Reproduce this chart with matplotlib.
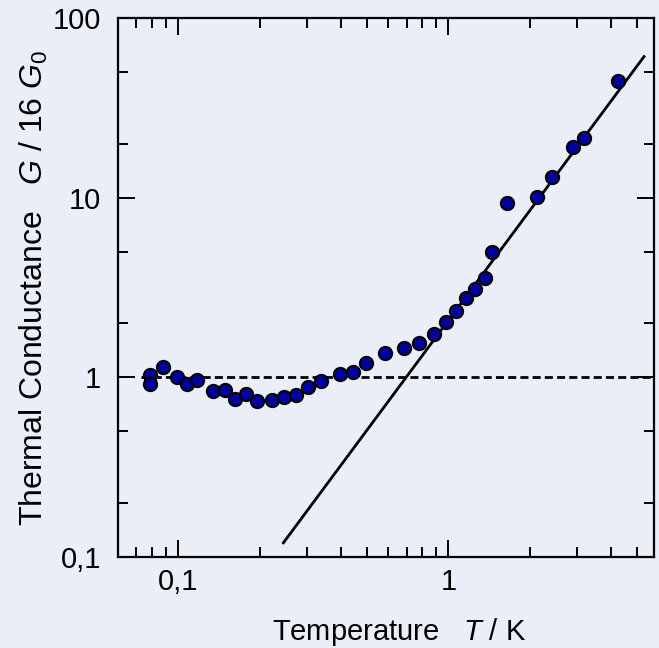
import matplotlib
matplotlib.use("Agg")
import matplotlib.pyplot as plt
from matplotlib.ticker import LogLocator, NullFormatter

plt.rcParams['font.family'] = ['Liberation Sans', 'DejaVu Sans']
plt.rcParams['mathtext.fontset'] = 'custom'
plt.rcParams['mathtext.rm'] = 'Liberation Sans'
plt.rcParams['mathtext.it'] = 'Liberation Sans:italic'

# measured thermal conductance (T in K, G in units of 16 G0)
temp = [0.0785, 0.0785, 0.088, 0.0986, 0.1074, 0.1176, 0.1341, 0.1486, 0.1626,
        0.1777, 0.1951, 0.2218, 0.2463, 0.2722, 0.3009, 0.3363, 0.3972, 0.4436,
        0.4944, 0.5843, 0.6854, 0.779, 0.8852, 0.9806, 1.065, 1.161, 1.259,
        1.370, 1.448, 1.654, 2.126, 2.415, 2.888, 3.181, 4.241]
cond = [1.026, 0.923, 1.141, 1.009, 0.923, 0.962, 0.839, 0.847, 0.761,
        0.804, 0.735, 0.748, 0.781, 0.794, 0.889, 0.960, 1.045, 1.066,
        1.196, 1.372, 1.456, 1.546, 1.742, 2.031, 2.339, 2.770, 3.088,
        3.555, 4.974, 9.297, 10.08, 13.02, 19.22, 21.38, 44.55]

# T^2 guide line and the quantum limit G = 16 G0
line_T = [0.245, 5.3]
line_G = [0.12, 61.0]
limit_T = [0.0725, 5.8]
limit_G = [1.0, 1.0]

bg = '#e9eef7'
fig = plt.figure(figsize=(6.59, 6.48), dpi=100, facecolor=bg)
ax = fig.add_axes([0.179, 0.1404, 0.8134, 0.8318], facecolor=bg)

ax.plot(limit_T, limit_G, color='black', lw=2.0, ls=(0, (2.9, 1.5)))
ax.plot(line_T, line_G, color='black', lw=2.0)
ax.plot(temp, cond, 'o', ms=9.5, mfc='#00009c', mec='black', mew=1.5)

ax.set_xscale('log')
ax.set_yscale('log')
ax.set_xlim(0.0598, 5.77)
ax.set_ylim(0.1, 100)

ax.set_xticks([0.1, 1])
ax.set_xticklabels(['0,1', '1'])
ax.set_yticks([0.1, 1, 10, 100])
ax.set_yticklabels(['0,1', '1', '10', '100'])
ax.xaxis.set_minor_locator(LogLocator(base=10, subs=range(2, 10), numticks=20))
ax.yaxis.set_minor_locator(LogLocator(base=10, subs=[2, 5], numticks=20))
ax.xaxis.set_minor_formatter(NullFormatter())
ax.yaxis.set_minor_formatter(NullFormatter())

ax.tick_params(which='both', direction='in', top=True, right=True,
               labelsize=21, width=1.4)
ax.tick_params(which='major', length=12, pad=8)
ax.tick_params(which='minor', length=7)
ax.tick_params(axis='y', which='major', pad=12)
for s in ax.spines.values():
    s.set_linewidth(1.6)

ax.set_xlabel(r'Temperature   $T$ / K', fontsize=21, labelpad=14)
ax.set_ylabel(r'Thermal Conductance   $G$ / 16 $G_0$', fontsize=23, labelpad=2)
ax.xaxis.label.set_x(0.524)
ax.yaxis.label.set_y(0.5)

fig.savefig('out.png', dpi=100, facecolor=bg)
